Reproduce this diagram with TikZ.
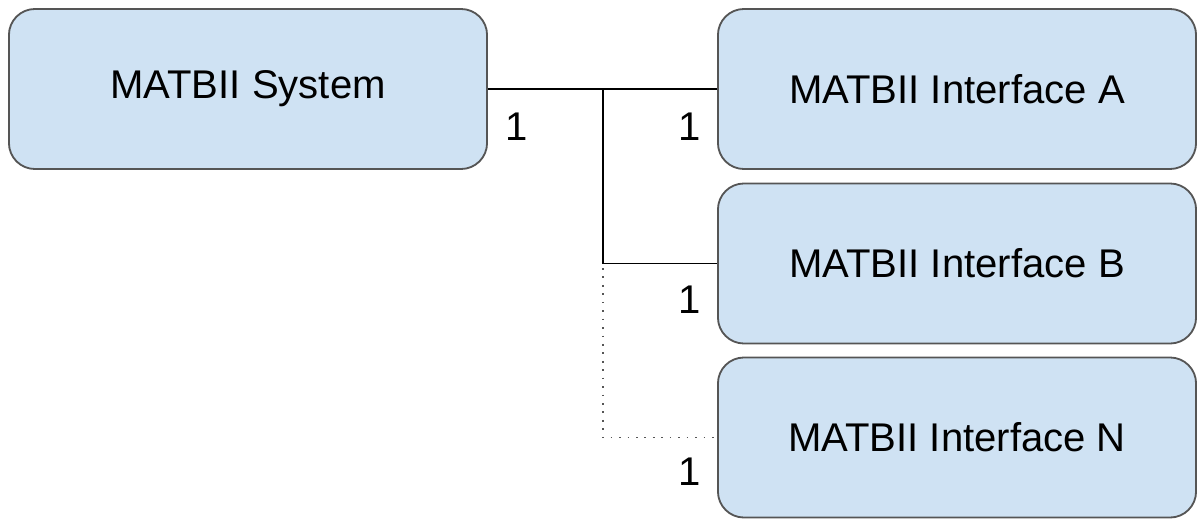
\documentclass[tikz,border=0pt]{standalone}
\usepackage{fontspec}
\setmainfont{Liberation Sans}
\usepackage{tikz}
\usetikzlibrary{positioning}
\definecolor{boxblue}{HTML}{CFE2F3}
\definecolor{edgegray}{HTML}{555555}

\begin{document}
\begin{tikzpicture}[
    x=0.025cm, y=-0.025cm,
    % Estilo de las cajas
    block/.style={
        draw=edgegray, fill=boxblue, rounded corners=0.65cm, line width=1.3pt,
        minimum width=11.95cm, minimum height=4.0cm,
        font=\fontsize{28.5}{34}\selectfont
    },
    % Multiplicidades
    mult/.style={font=\fontsize{28.5}{34}\selectfont, inner sep=0pt},
    % Conectores
    link/.style={line width=1pt, color=black},
    optlink/.style={line width=1.3pt, color=edgegray, dash pattern=on 1.2pt off 4.8pt}
]
    \useasboundingbox (0,0) rectangle (1200,519);

    % 1. Cajas
    \node[block] (sys) at (248, 89)    {MATBII System};
    \node[block] (ifa) at (957, 89)    {MATBII Interface A};
    \node[block] (ifb) at (957, 263.5) {MATBII Interface B};
    \node[block] (ifn) at (957, 437.5) {MATBII Interface N};

    % 2. Multiplicidades
    \node[mult] (m0) at (517, 127) {1};
    \node[mult] (ma) at (690, 127) {1};
    \node[mult] (mb) at (690, 300) {1};
    \node[mult] (mn) at (690, 472) {1};

    % 3. Conectores
    \coordinate (J)  at (603, 89);
    \coordinate (JN) at (603, 268);

    \draw[link] (sys.east) -- (ifa.west);
    \draw[link] (J) |- (ifb.west);
    \draw[optlink] (JN) |- (ifn.west);

\end{tikzpicture}
\end{document}
